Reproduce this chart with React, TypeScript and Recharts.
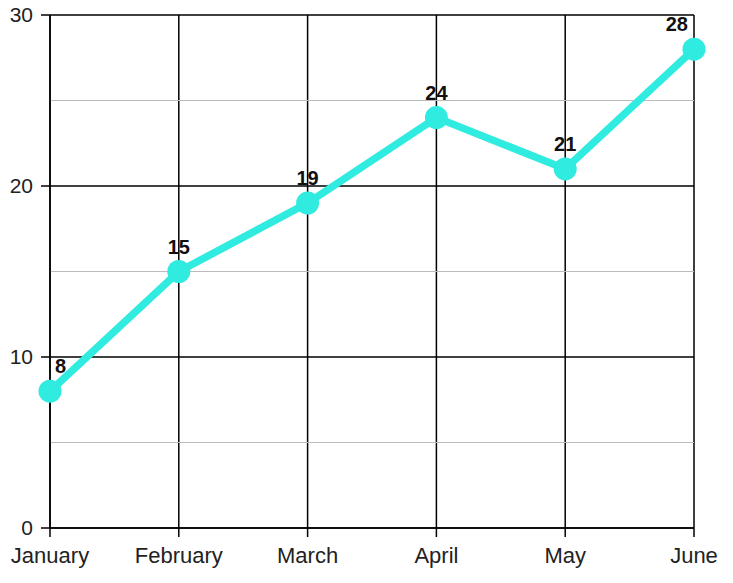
import React from 'react';
import { LineChart, Line, XAxis, YAxis, CartesianGrid, ReferenceLine, LabelList } from 'recharts';

const months = ['January', 'February', 'March', 'April', 'May', 'June'];
const values = [8, 15, 19, 24, 21, 28];
const yTicks = [0, 10, 20, 30];
const minorLines = [5, 15, 25];

const data = months.map((m, i) => ({ month: m, value: values[i] }));

const FONT = '"Liberation Sans", Arial, sans-serif';
const CYAN = '#30ebdf';

const renderLabel = (props: any) => {
  const { x, y, value, index } = props;
  const last = months.length - 1;
  let anchor: 'start' | 'middle' | 'end' = 'middle';
  let dx = 0;
  if (index === 0) { anchor = 'start'; dx = 5; }
  else if (index === last) { anchor = 'end'; dx = -6; }
  return (
    <text x={x + dx} y={y - 18} textAnchor={anchor} fontFamily={FONT} fontWeight="bold" fontSize={20} fill="#111">
      {value}
    </text>
  );
};

export default function App() {
  return (
    <div style={{ position: 'absolute', left: 0, top: 0, background: '#fff' }}>
      <LineChart width={733} height={583} data={data} margin={{ top: 15, right: 39, bottom: 0, left: 0 }}>
        <CartesianGrid stroke="#000" strokeWidth={1.5} />
        {minorLines.map((v) => (
          <ReferenceLine key={v} y={v} stroke="#bbb" strokeWidth={1.2} />
        ))}
        <XAxis
          dataKey="month"
          height={55}
          tickSize={9}
          tickMargin={10}
          axisLine={{ stroke: '#000', strokeWidth: 1.5 }}
          tickLine={{ stroke: '#000', strokeWidth: 1.5 }}
          tick={{ fill: '#222', fontSize: 22, fontFamily: FONT }}
          interval={0}
        />
        <YAxis
          width={50}
          domain={[0, 30]}
          ticks={yTicks}
          tickSize={9}
          tickMargin={8}
          axisLine={{ stroke: '#000', strokeWidth: 1.5 }}
          tickLine={{ stroke: '#000', strokeWidth: 1.5 }}
          tick={{ fill: '#222', fontSize: 21, fontFamily: FONT }}
        />
        <Line
          type="linear"
          dataKey="value"
          stroke={CYAN}
          strokeWidth={7.5}
          dot={{ r: 11.5, fill: CYAN, stroke: 'none' }}
          activeDot={false}
          isAnimationActive={false}
        >
          <LabelList dataKey="value" content={renderLabel} />
        </Line>
      </LineChart>
    </div>
  );
}
